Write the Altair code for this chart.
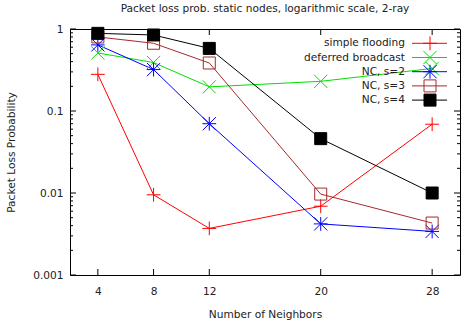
import altair as alt
import pandas as pd

# Number of neighbors on the x axis
neighbors = [4, 8, 12, 20, 28]

# Packet loss probability per scheme
series_names = ["simple flooding", "deferred broadcast", "NC, s=2", "NC, s=3", "NC, s=4"]
simple_flooding = [0.28, 0.0095, 0.0037, 0.0069, 0.069]
deferred_broadcast = [0.51, 0.39, 0.197, 0.23, 0.33]
nc_s2 = [0.64, 0.32, 0.070, 0.0042, 0.0034]
nc_s3 = [0.80, 0.67, 0.385, 0.0097, 0.0043]
nc_s4 = [0.885, 0.845, 0.58, 0.046, 0.010]

# Axis tick values
x_ticks = [4, 8, 12, 20, 28]
y_major = [1, 0.1, 0.01, 0.001]
y_minor = [m * d for d in (0.001, 0.01, 0.1) for m in range(2, 10)]

colors = ["#ff0000", "#00e000", "#0000ff", "#a52a2a", "#000000"]
fills = ["transparent", "transparent", "transparent", "transparent", "#000000"]

# gnuplot-like point symbols
plus = "M-1.15,0L1.15,0M0,-1.15L0,1.15"
cross = "M-1.1,-1.1L1.1,1.1M-1.1,1.1L1.1,-1.1"
star = plus + cross
square = "M-1,-1L1,-1L1,1L-1,1Z"
shapes = [plus, cross, star, square, square]

rows = []
for name, vals in zip(series_names, [simple_flooding, deferred_broadcast, nc_s2, nc_s3, nc_s4]):
    for n, p in zip(neighbors, vals):
        rows.append({"series": name, "n": n, "p": p})
df = pd.DataFrame(rows)
key_df = pd.DataFrame({"series": series_names})

W, H = 390, 246
FONT = "DejaVu Sans"
FS = 10.6
TXT = "#222222"

xs = alt.Scale(domain=[2, 30], nice=False, zero=False)
ys = alt.Scale(type="log", domain=[0.001, 1], nice=False)

x_axis = alt.Axis(values=x_ticks, tickSize=0, labelPadding=11, labelFlush=False,
                  title="Number of Neighbors", titleY=39, titleBaseline="middle",
                  titleFontWeight="normal", grid=False, domain=False)
y_axis = alt.Axis(values=y_major, format="~g", tickSize=0, labelPadding=7, labelFlush=False,
                  title="Packet Loss Probability", titleX=-59, titleY=H / 2,
                  titleAngle=270, titleBaseline="middle", titleAlign="center",
                  titleFontWeight="normal", grid=False, domain=False)

color_enc = alt.Color("series:N", scale=alt.Scale(domain=series_names, range=colors), legend=None)
shape_enc = alt.Shape("series:N", scale=alt.Scale(domain=series_names, range=shapes), legend=None)
fill_enc = alt.Fill("series:N", scale=alt.Scale(domain=series_names, range=fills), legend=None)

lines = alt.Chart(df).mark_line(strokeWidth=1).encode(
    x=alt.X("n:Q", scale=xs, axis=x_axis),
    y=alt.Y("p:Q", scale=ys, axis=y_axis),
    color=color_enc,
)

points = alt.Chart(df).mark_point(size=144, opacity=1, strokeWidth=1).encode(
    x=alt.X("n:Q", scale=xs, axis=x_axis),
    y=alt.Y("p:Q", scale=ys, axis=y_axis),
    shape=shape_enc,
    color=color_enc,
    fill=fill_enc,
)

# inward ticks on all four sides of the frame
ymaj = pd.DataFrame({"t": y_major})
ymin = pd.DataFrame({"t": y_minor})
xt = pd.DataFrame({"t": x_ticks})
tick_style = dict(color="#000000", strokeWidth=1)


def ytick(data, x0, x1):
    return alt.Chart(data).mark_rule(**tick_style).encode(
        y=alt.Y("t:Q", scale=ys, axis=y_axis), x=alt.value(x0), x2=alt.value(x1))


def xtick(data, y0, y1):
    return alt.Chart(data).mark_rule(**tick_style).encode(
        x=alt.X("t:Q", scale=xs, axis=x_axis), y=alt.value(y0), y2=alt.value(y1))


ticks = [
    ytick(ymaj, 0, 6), ytick(ymaj, W, W - 6),
    ytick(ymin, 0, 3), ytick(ymin, W, W - 3),
    xtick(xt, 0, 6), xtick(xt, H, H - 6),
]

plot = alt.layer(*ticks, lines, points)

# key in the upper right corner: label, line sample and symbol per row
key_y = alt.Y("series:N", sort=series_names, axis=None,
              scale=alt.Scale(type="point", range=[14.3, 71.1], padding=0))
key_text = alt.Chart(key_df).mark_text(
    align="right", baseline="middle", font=FONT, fontSize=FS, color=TXT
).encode(y=key_y, x=alt.value(335), text="series:N")
key_line = alt.Chart(key_df).mark_rule(strokeWidth=1).encode(
    y=key_y, x=alt.value(342), x2=alt.value(377), color=color_enc)
key_point = alt.Chart(key_df).mark_point(size=144, opacity=1, strokeWidth=1).encode(
    y=key_y, x=alt.value(360), shape=shape_enc, color=color_enc, fill=fill_enc)
key = alt.layer(key_text, key_line, key_point)

chart = alt.layer(plot, key).resolve_scale(y="independent").properties(
    width=W, height=H,
    autosize=alt.AutoSizeParams(type="none"),
    padding={"left": 70, "top": 29, "right": 13, "bottom": 49},
    title=alt.TitleParams("Packet loss prob. static nodes, logarithmic scale, 2-ray",
                          anchor="middle", baseline="alphabetic", offset=1.5, frame="group",
                          font=FONT, fontSize=FS, fontWeight="normal", color=TXT),
).configure_view(stroke="#000000", strokeWidth=1).configure_axis(
    labelFont=FONT, labelFontSize=FS, labelColor=TXT,
    titleFont=FONT, titleFontSize=FS, titleColor=TXT,
)

chart.save("out.html", embed_options={"renderer": "svg", "actions": False})
